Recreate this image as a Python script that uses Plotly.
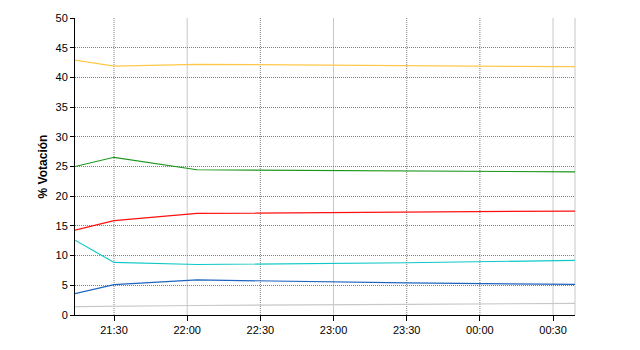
import plotly.graph_objects as go

times = ["2000-01-01 21:14", "2000-01-01 21:30", "2000-01-01 22:04",
         "2000-01-01 23:30", "2000-01-02 00:39"]
yellow = [42.9, 41.9, 42.2, 42.0, 41.8]
green = [25.0, 26.55, 24.45, 24.25, 24.1]
red = [14.3, 15.9, 17.1, 17.35, 17.5]
cyan = [12.6, 8.85, 8.5, 8.8, 9.2]
blue = [3.6, 5.1, 5.9, 5.4, 5.15]
gray = [1.4, 1.5, 1.6, 1.8, 1.95]

series = [
    ("A", yellow, "#FFC84A"),
    ("B", green, "#1A961A"),
    ("C", red, "#FF1010"),
    ("D", cyan, "#10C8C8"),
    ("E", blue, "#1E64C0"),
    ("F", gray, "#C8C8C8"),
]

tick_vals = ["2000-01-01 21:30", "2000-01-01 22:00", "2000-01-01 22:30",
             "2000-01-01 23:00", "2000-01-01 23:30", "2000-01-02 00:00",
             "2000-01-02 00:30"]
tick_text = ["21:30", "22:00", "22:30", "23:00", "23:30", "00:00", "00:30"]
solid_grid = ["2000-01-01 22:00", "2000-01-01 23:00", "2000-01-02 00:30"]

fig = go.Figure()
for name, vals, col in series:
    fig.add_trace(go.Scatter(x=times, y=vals, mode="lines", name=name,
                             line=dict(color=col, width=1.2)))

shapes = []
for t in tick_vals:
    if t in solid_grid:
        ln = dict(color="#C8C8C8", width=1)
    else:
        ln = dict(color="#808080", width=1, dash="1px,1px")
    shapes.append(dict(type="line", xref="x", yref="paper", x0=t, x1=t,
                       y0=0, y1=1, line=ln, layer="below"))
shapes.append(dict(type="line", xref="paper", yref="paper", x0=1, x1=1,
                   y0=0, y1=1, line=dict(color="#C8C8C8", width=1), layer="below"))

fig.update_layout(
    width=640, height=350,
    margin=dict(l=75, r=65, t=15, b=35),
    paper_bgcolor="white", plot_bgcolor="white",
    showlegend=False,
    font=dict(family="Liberation Sans, Arial", size=11, color="black"),
    shapes=shapes,
    xaxis=dict(range=[times[0], times[-1]], tickvals=tick_vals, ticktext=tick_text,
               showgrid=False, showline=True, linecolor="black", linewidth=1,
               ticks="outside", ticklen=5, tickcolor="black", zeroline=False),
    yaxis=dict(range=[0, 50], dtick=5, showgrid=True, gridcolor="#808080",
               griddash="1px,1px", gridwidth=1, showline=True, linecolor="black",
               linewidth=1, ticks="outside", ticklen=4, tickcolor="black",
               zeroline=False,
               title=dict(text="<b>% Votación</b>", font=dict(size=12), standoff=5)),
)

fig.write_html("out.html")
